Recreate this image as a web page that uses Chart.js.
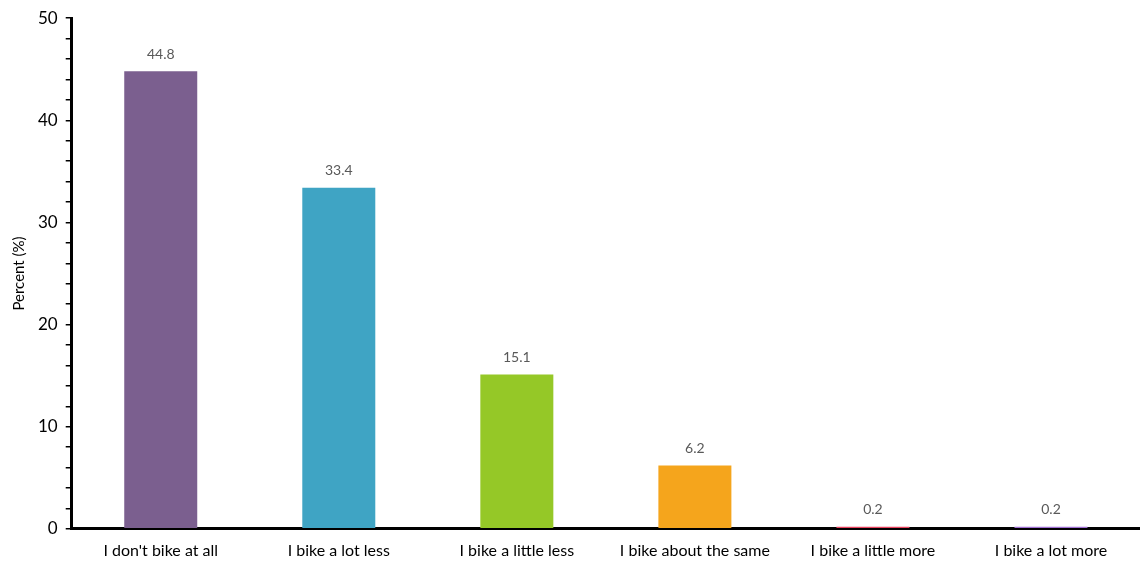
<!DOCTYPE html>
<html>
<head>
<meta charset="utf-8">
<script src="https://cdn.jsdelivr.net/npm/chart.js@4/dist/chart.umd.min.js"></script>
<style>
    html, body { margin: 0; padding: 0; background: #fff; }
    #wrap { width: 1140px; height: 562px; }
</style>
</head>
<body>
<div id="wrap"><canvas id="bikeChart"></canvas></div>
<script>
const categories = ["I don't bike at all", 'I bike a lot less', 'I bike a little less', 'I bike about the same', 'I bike a little more', 'I bike a lot more'];
const percents = [44.8, 33.4, 15.1, 6.2, 0.2, 0.2];
const barColors = ['#7b5f8f', '#3fa4c4', '#95c827', '#f5a51c', '#e8425e', '#a070d3'];
const yTickLabels = [0, 10, 20, 30, 40, 50];

const FONT = "Lato, 'Liberation Sans', sans-serif";

// draws the value above each bar
const valueLabels = {
    id: 'valueLabels',
    afterDatasetsDraw(chart) {
        const ctx = chart.ctx;
        const meta = chart.getDatasetMeta(0);
        ctx.save();
        ctx.font = '14px ' + FONT;
        ctx.fillStyle = '#595959';
        ctx.textAlign = 'center';
        ctx.textBaseline = 'bottom';
        meta.data.forEach((bar, i) => {
            ctx.fillText(percents[i].toFixed(1), bar.x, bar.y - 10);
        });
        ctx.restore();
    }
};

new Chart(document.getElementById('bikeChart'), {
    type: 'bar',
    data: {
        labels: categories,
        datasets: [{
            label: 'Percent',
            data: percents,
            backgroundColor: barColors,
            categoryPercentage: 1,
            barPercentage: 0.41
        }]
    },
    options: {
        responsive: true,
        maintainAspectRatio: false,
        animation: false,
        layout: {
            padding: {top: 2, right: 0, bottom: -10, left: 10}
        },
        plugins: {
            legend: {display: false},
            tooltip: {enabled: false}
        },
        scales: {
            x: {
                grid: {display: false, drawTicks: false},
                border: {display: true, color: '#000', width: 3},
                ticks: {
                    color: '#000',
                    font: {family: FONT, size: 16},
                    padding: 12,
                    maxRotation: 0
                }
            },
            y: {
                min: 0,
                max: 50,
                grid: {
                    drawOnChartArea: false,
                    drawTicks: true,
                    tickLength: 6,
                    color: '#000',
                    lineWidth: 1.5
                },
                border: {display: true, color: '#000', width: 3},
                ticks: {
                    stepSize: 2,
                    autoSkip: false,
                    color: '#000',
                    font: {family: FONT, size: 17},
                    padding: 8,
                    callback: v => yTickLabels.includes(v) ? v : ''
                },
                title: {
                    display: true,
                    text: 'Percent (%)',
                    color: '#000',
                    font: {family: FONT, size: 15},
                    padding: {top: 0, bottom: 2}
                }
            }
        }
    },
    plugins: [valueLabels]
});
</script>
</body>
</html>
